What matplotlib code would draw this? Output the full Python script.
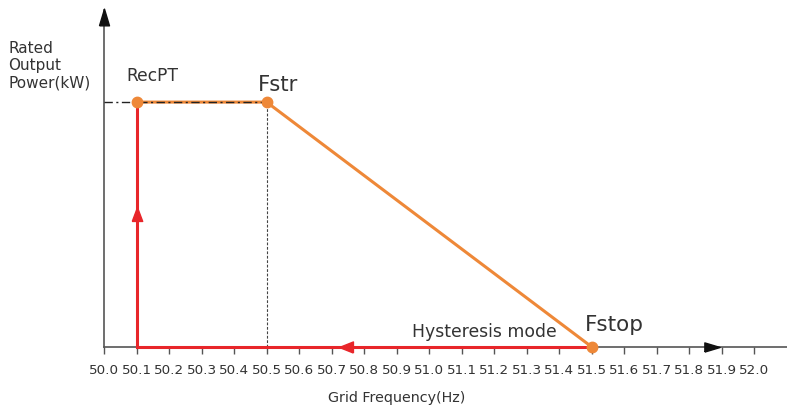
import matplotlib
matplotlib.use("Agg")
import matplotlib.pyplot as plt
import numpy as np

# Data
ticks = [round(50.0 + 0.1 * i, 1) for i in range(21)]
tick_labels = [f"{t:.1f}" for t in ticks]
orange_x = [50.1, 50.5, 51.5]
orange_y = [1.0, 1.0, 0.0]
red_x = [51.5, 50.1, 50.1]
red_y = [0.0, 0.0, 1.0]
recpt_f = 50.1
fstr_f = 50.5
fstop_f = 51.5
rated = 1.0

ORANGE = "#EE8838"
RED = "#E8262A"
GRAY = "#555555"
FONT = "DejaVu Sans"

UP = [(-0.6, -1), (0.6, -1), (0, 1), (-0.6, -1)]
UP_RED = [(-0.75, -1), (0.75, -1), (0, 1), (-0.75, -1)]
RIGHT = [(-1, -0.6), (-1, 0.6), (1, 0), (-1, -0.6)]
LEFT = [(1, -0.8), (1, 0.8), (-1, 0), (1, -0.8)]

W, H = 787, 407
fig = plt.figure(figsize=(W / 100, H / 100), dpi=100)
ax = fig.add_axes([104 / W, 60 / H, (W - 104) / W, 337 / H])
ax.set_xlim(50.0, 52.1)
ax.set_ylim(0, 1.376)

for s in ["top", "right"]:
    ax.spines[s].set_visible(False)
for s in ["left", "bottom"]:
    ax.spines[s].set_color(GRAY)
    ax.spines[s].set_linewidth(1.2)

ax.set_yticks([])
ax.set_xticks(ticks)
ax.set_xticklabels(tick_labels, fontsize=9.7, fontfamily=FONT, color="#333333")
ax.tick_params(axis="x", direction="out", length=5, width=1, color=GRAY, pad=7)

# axis arrows
ax.plot([50.0], [1.376 - 0.03], marker=UP, color="#111111", markersize=12,
        clip_on=False, zorder=6)
ax.plot([51.87], [0], marker=RIGHT, color="#111111", markersize=11,
        clip_on=False, zorder=6)

# dotted vertical at Fstr
ax.plot([fstr_f, fstr_f], [0, rated], color="#444444", lw=0.8,
        linestyle=(0, (2.5, 1.5)), zorder=2)

# red path
ax.plot(red_x, red_y, color=RED, lw=2.2, zorder=3, solid_joinstyle="miter",
        clip_on=False)
# orange path
ax.plot(orange_x, orange_y, color=ORANGE, lw=2.2, zorder=4)
# dash-dot rated line
ax.plot([50.0, fstr_f], [rated, rated], color="#222222", lw=1.0,
        linestyle=(0, (6, 2.5, 1.5, 2.5)), zorder=5)
# points
ax.plot([recpt_f, fstr_f, fstop_f], [rated, rated, 0], "o", color=ORANGE,
        markersize=7.5, zorder=7, clip_on=False)

# direction arrows on red path
ax.plot([50.745], [0], marker=LEFT, color=RED, markersize=10, zorder=6,
        clip_on=False)
ax.plot([recpt_f], [0.545], marker=UP_RED, color=RED, markersize=10, zorder=6)

# labels
txt = dict(fontfamily=FONT, color="#333333")
ax.text(recpt_f + 0.048, 1.106, "RecPT", fontsize=12.3, ha="center", va="center", **txt)
ax.text(fstr_f + 0.035, 1.069, "Fstr", fontsize=15.2, ha="center", va="center", **txt)
ax.text(fstop_f + 0.069, 0.09, "Fstop", fontsize=15.5, ha="center", va="center", **txt)
ax.text(51.169, 0.062, "Hysteresis mode", fontsize=12.4, ha="center", va="center", **txt)

fig.text(8 / W, 1 - 41 / H, "Rated\nOutput\nPower(kW)", fontsize=11,
         ha="left", va="top", linespacing=1.2, **txt)
fig.text(397 / W, 1 - 398 / H, "Grid Frequency(Hz)", fontsize=10.3,
         ha="center", va="center", **txt)

fig.savefig("out.png", dpi=100)
